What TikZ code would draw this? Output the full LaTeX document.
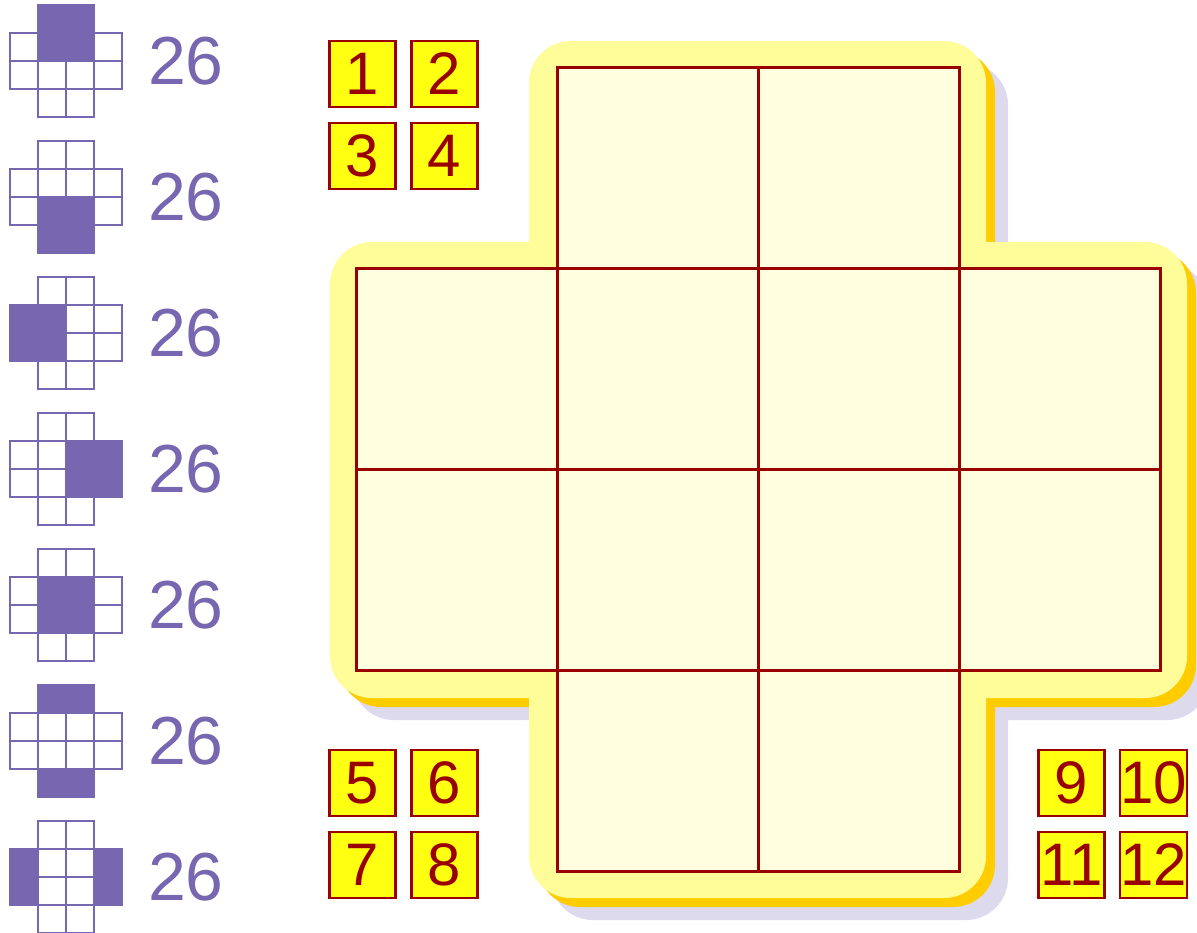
\documentclass[tikz,border=0pt]{standalone}
\usepackage{fontspec}
\setmainfont{Liberation Sans}
\definecolor{padyellow}{HTML}{FFFD99}
\definecolor{cellfill}{HTML}{FFFFE0}
\definecolor{rimorange}{HTML}{FFCC00}
\definecolor{dropshade}{HTML}{DDDAEE}
\definecolor{darkred}{HTML}{990000}
\definecolor{tilefill}{HTML}{FFFF11}
\definecolor{lilac}{HTML}{7766B0}
\tikzset{
  cell/.style={fill=cellfill, draw=darkred, line width=1.5pt},
  minicell/.style={fill=white, draw=lilac, line width=1pt},
  tile/.style={draw=darkred, line width=1.25pt, fill=tilefill, minimum size=33pt,
    inner sep=0pt, text=darkred, font=\fontsize{30}{30}\selectfont},
  sumlabel/.style={text=lilac, inner sep=0pt, font=\fontsize{34}{34}\selectfont},
}
% the cross shaped board outline: union of two rounded bands
\newcommand{\padshape}[1]{%
  \fill[#1, rounded corners=21pt] (529,41) rectangle (986,898);
  \fill[#1, rounded corners=21pt] (330,242) rectangle (1187,698);}
\begin{document}
\begin{tikzpicture}[x=0.5pt, y=-0.5pt]
    \useasboundingbox (0,0) rectangle (1197,932);
    \clip (0,0) rectangle (1197,932);
    % shadow, rim and pad
    \begin{scope}[shift={(22,22)}]
        \padshape{dropshade}
    \end{scope}
    \begin{scope}[shift={(9,9)}]
        \padshape{rimorange}
    \end{scope}
    \padshape{padyellow}
    % board cells
    \foreach \c/\r in {1/0,2/0,0/1,1/1,2/1,3/1,0/2,1/2,2/2,3/2,1/3,2/3}
        \draw[cell] (356+201*\c,67+201*\r) rectangle ++(201,201);
    % small crosses with the marked groups
    \foreach \k/\on in {0/{1/0,2/0,1/1,2/1}, 1/{1/2,2/2,1/3,2/3}, 2/{0/1,1/1,0/2,1/2},
                        3/{2/1,3/1,2/2,3/2}, 4/{1/1,2/1,1/2,2/2}, 5/{1/0,2/0,1/3,2/3},
                        6/{0/1,0/2,3/1,3/2}} {
        \begin{scope}[shift={(10,5+136*\k)}]
            \foreach \c/\r in {1/0,2/0,0/1,1/1,2/1,3/1,0/2,1/2,2/2,3/2,1/3,2/3}
                \draw[minicell] (28*\c,28*\r) rectangle ++(28,28);
            \foreach \c/\r in \on
                \filldraw[lilac, line width=1pt] (28*\c,28*\r) rectangle ++(28,28);
        \end{scope}
        \node[sumlabel] (sum\k) at (186,61+136*\k) {26};
    }
    % number tiles
    \node[tile] (t1) at (362.5,74) {1};
    \node[tile] (t2) at (444.5,74) {2};
    \node[tile] (t3) at (362.5,156) {3};
    \node[tile] (t4) at (444.5,156) {4};
    \node[tile] (t5) at (362.5,783) {5};
    \node[tile] (t6) at (444.5,783) {6};
    \node[tile] (t7) at (362.5,865) {7};
    \node[tile] (t8) at (444.5,865) {8};
    \node[tile] (t9) at (1071.5,783) {9};
    \node[tile] (t10) at (1153.5,783) {10};
    \node[tile] (t11) at (1071.5,865) {11};
    \node[tile] (t12) at (1153.5,865) {12};
\end{tikzpicture}
\end{document}
